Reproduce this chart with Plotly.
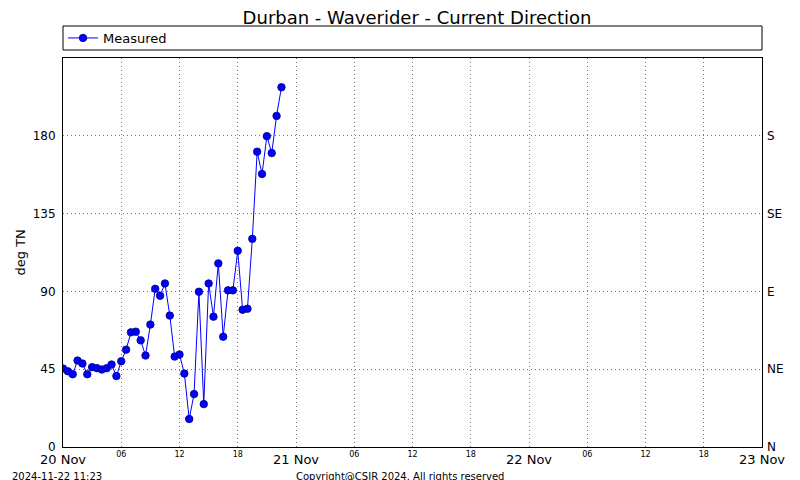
import plotly.graph_objects as go
import pandas as pd

title_text = "Durban - Waverider - Current Direction"
series_name = "Measured"
start_time = "2024-11-20 00:00"
sample_step = "30min"
direction_deg = [45.4, 43.8, 42.1, 50.0, 48.3, 42.1, 46.2, 45.6, 44.8, 45.6,
                 47.7, 41.0, 49.6, 56.3, 66.3, 66.7, 61.7, 52.9, 70.8, 91.5,
                 87.5, 94.6, 76.0, 52.3, 53.5, 42.5, 16.2, 30.6, 89.8, 24.8,
                 94.6, 75.4, 106.2, 63.8, 90.6, 90.6, 113.5, 79.4, 80.0, 120.4,
                 170.8, 157.9, 179.8, 170.0, 191.5, 208.1]
times = pd.date_range(start_time, periods=len(direction_deg), freq=sample_step)

x_range = ["2024-11-20 00:00", "2024-11-23 00:00"]
day_tick_vals = pd.date_range(x_range[0], x_range[1], freq="24h")
day_tick_labels = ["20 Nov", "21 Nov", "22 Nov", "23 Nov"]
hour_tick_vals = [t for t in pd.date_range(x_range[0], x_range[1], freq="6h")
                  if t.hour != 0]
hour_tick_labels = ["06", "12", "18", "06", "12", "18", "06", "12", "18"]
grid_tick_vals = pd.date_range(x_range[0], x_range[1], freq="6h")
y_range = [0, 225]
y_tick_vals = [0, 45, 90, 135, 180]
y_tick_labels = ["0", "45", "90", "135", "180"]
compass_labels = ["N", "NE", "E", "SE", "S"]
y_label = "deg TN"
timestamp_text = "2024-11-22 11:23"
copyright_text = "Copyright@CSIR 2024. All rights reserved"

FONT = "DejaVu Sans"
GRID = dict(showgrid=True, gridcolor="#777", griddash="1px,3px", gridwidth=1)

fig = go.Figure()
fig.add_trace(go.Scatter(
    x=times, y=direction_deg, mode="lines+markers", name=series_name,
    line=dict(color="#0000ff", width=1),
    marker=dict(color="#0000ff", size=7.5, line=dict(color="#00007a", width=0.8)),
))
# invisible helper trace for the hour-label axis and the compass axis
fig.add_trace(go.Scatter(
    x=times[:1], y=direction_deg[:1], xaxis="x2", yaxis="y2", mode="markers",
    marker=dict(opacity=0), showlegend=False, hoverinfo="skip",
))

W, H = 800, 480
L, R, T, B = 63, 38, 58, 33
pw, ph = W - L - R, H - T - B

def px_x(px):
    return (px - L) / pw

def px_y(py):
    return (H - B - py) / ph

fig.update_layout(
    width=W, height=H,
    margin=dict(l=L, r=R, t=T, b=B),
    paper_bgcolor="white", plot_bgcolor="white",
    font=dict(family=FONT, size=12, color="black"),
    title=dict(text=title_text, xref="container", x=417 / W, xanchor="center",
               yref="container", y=1 - 18 / H, yanchor="middle",
               font=dict(size=18, family=FONT)),
    showlegend=True,
    legend=dict(x=0, xanchor="left", y=px_y(38), yanchor="middle",
                bgcolor="rgba(0,0,0,0)", borderwidth=0,
                font=dict(size=13, family=FONT), itemwidth=30),
    xaxis=dict(type="date", range=x_range, tickmode="array",
               tickvals=day_tick_vals, ticktext=day_tick_labels,
               tickangle=0, tickfont=dict(size=13), showgrid=False,
               showline=True, linecolor="black", linewidth=1, mirror=True,
               ticks="", zeroline=False),
    xaxis2=dict(type="date", range=x_range, overlaying="x", side="bottom",
                anchor="y", tickmode="array",
                tickvals=grid_tick_vals,
                ticktext=["" if t.hour == 0 else t.strftime("%H") for t in grid_tick_vals],
                tickangle=0, tickfont=dict(size=8), showline=False,
                ticks="", zeroline=False, ticklabelstandoff=1, **GRID),
    yaxis=dict(range=y_range, tickmode="array", tickvals=y_tick_vals,
               ticktext=y_tick_labels, tickfont=dict(size=12),
               showline=True, linecolor="black", linewidth=1, mirror=True,
               ticks="", zeroline=False, ticklabelstandoff=4, **GRID),
    yaxis2=dict(range=y_range, overlaying="y", side="right", anchor="x",
                tickmode="array", tickvals=y_tick_vals, ticktext=compass_labels,
                tickfont=dict(size=12), showgrid=False, zeroline=False,
                showline=False, ticks="", ticklabelstandoff=4),
    shapes=[dict(type="rect", xref="paper", yref="paper",
                 x0=0, x1=1, y0=px_y(50), y1=px_y(26),
                 line=dict(color="black", width=1))],
    annotations=[
        dict(text=y_label, xref="paper", yref="paper", x=px_x(20), y=0.5,
             xanchor="center", yanchor="middle", textangle=-90,
             showarrow=False, font=dict(size=13)),
        dict(text=timestamp_text, xref="paper", yref="paper", x=px_x(10),
             y=px_y(476), xanchor="left", yanchor="middle", showarrow=False,
             font=dict(size=10)),
        dict(text=copyright_text, xref="paper", yref="paper", x=px_x(400),
             y=px_y(476), xanchor="center", yanchor="middle", showarrow=False,
             font=dict(size=10)),
    ],
)

fig.write_html("out.html")
